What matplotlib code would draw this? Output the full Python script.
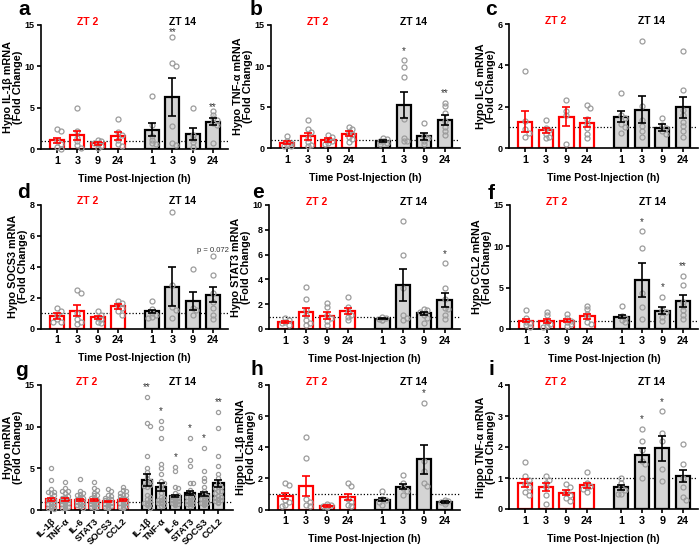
import numpy as np
import matplotlib
matplotlib.use("Agg")
import matplotlib.pyplot as plt
from matplotlib.transforms import blended_transform_factory, offset_copy

plt.rcParams['font.family'] = ['Liberation Sans', 'DejaVu Sans']
plt.rcParams['font.weight'] = 'bold'

times = ['1', '3', '9', '24']
genes = ['IL-1\u03b2', 'TNF-\u03b1', 'IL-6', 'STAT3', 'SOCS3', 'CCL2']

# groups: ZT2 1,3,9,24 h then ZT14 1,3,9,24 h
il1b_pts = [[2.5, 2.2, 1.0, 0.7, 0.3, 0.1], [5.0, 2.2, 1.4, 1.0, 0.5, 0.2],
            [1.15, 1.0, 0.8, 0.7, 0.45, 0.2], [3.65, 2.1, 1.8, 1.2, 0.7, 0.4],
            [6.5, 3.0, 1.6, 1.2, 0.8, 0.7], [13.6, 10.4, 10.1, 2.8, 0.8, 0.6],
            [5.0, 1.8, 1.3, 0.9, 0.3], [4.6, 4.2, 3.8, 3.5, 3.2, 2.9, 0.8]]
il1b_mean = [1.1, 1.7, 0.75, 1.65, 2.4, 6.35, 1.9, 3.35]
il1b_sem = [0.3, 0.5, 0.2, 0.45, 0.8, 2.3, 0.75, 0.4]
il1b_stars = ['', '', '', '', '', '**', '', '**']

tnf_pts = [[1.5, 0.8, 0.6, 0.4, 0.3, 0.2], [3.4, 2.3, 2.0, 1.2, 0.7, 0.4, 0.2],
           [1.6, 1.4, 1.0, 0.8, 0.6, 0.5], [2.6, 2.3, 2.0, 1.7, 1.4, 1.1, 0.7],
           [1.2, 1.1, 0.9, 0.8, 0.6, 0.5], [10.7, 9.9, 8.6, 3.5, 1.2, 0.9, 0.8],
           [3.0, 1.5, 1.2, 0.9, 0.5], [5.5, 5.1, 4.3, 3.3, 2.6, 2.1, 1.6]]
tnf_mean = [0.65, 1.43, 1.02, 1.75, 0.86, 5.2, 1.43, 3.4]
tnf_sem = [0.15, 0.4, 0.25, 0.3, 0.1, 1.6, 0.4, 0.6]
tnf_stars = ['', '', '', '', '', '*', '', '**']

il6_pts = [[3.75, 1.3, 0.9, 0.75, 0.55], [1.35, 0.95, 0.85, 0.7, 0.55, 0.5],
           [2.3, 1.8, 1.6, 0.2], [2.1, 1.95, 1.4, 1.15, 0.95, 0.7, 0.5],
           [2.65, 1.6, 1.45, 1.15, 1.0, 0.75], [5.2, 2.05, 1.35, 1.05, 0.8, 0.55],
           [1.45, 1.1, 0.95, 0.8, 0.7], [4.7, 2.8, 1.85, 1.6, 1.25, 1.05, 0.8, 0.55]]
il6_mean = [1.27, 0.85, 1.52, 1.23, 1.52, 1.86, 0.99, 1.96]
il6_sem = [0.5, 0.1, 0.47, 0.22, 0.26, 0.65, 0.15, 0.52]
il6_stars = [''] * 8

socs3_pts = [[1.35, 1.15, 0.85, 0.6, 0.4, 0.4], [2.5, 2.3, 1.0, 0.6, 0.4, 0.3],
             [1.1, 0.9, 0.7, 0.6, 0.45, 0.35], [1.8, 1.65, 1.5, 1.3, 1.1, 0.9],
             [1.8, 1.25, 1.0, 0.85, 0.75, 0.7], [7.5, 2.8, 1.4, 1.2, 0.7],
             [3.85, 1.3, 1.2, 0.85], [4.65, 3.45, 2.3, 1.7, 1.3, 0.9, 0.6]]
socs3_mean = [0.8, 1.16, 0.71, 1.42, 1.12, 2.69, 1.76, 2.19]
socs3_sem = [0.18, 0.35, 0.1, 0.15, 0.1, 1.25, 0.58, 0.5]
socs3_stars = [''] * 8

stat3_pts = [[0.85, 0.7, 0.55, 0.45, 0.35], [3.35, 2.4, 1.5, 1.1, 0.7, 0.5, 0.3],
             [2.1, 1.8, 1.1, 0.85, 0.65, 0.35], [2.6, 1.75, 1.4, 1.15, 1.0, 0.7],
             [1.0, 0.9, 0.8, 0.75, 0.7], [8.7, 5.95, 3.3, 1.1, 0.9, 0.75],
             [1.65, 1.55, 1.4, 1.1, 0.85, 0.5], [5.3, 3.3, 2.4, 1.7, 1.6, 1.1, 0.8]]
stat3_mean = [0.59, 1.4, 1.08, 1.45, 0.83, 3.52, 1.26, 2.31]
stat3_sem = [0.08, 0.33, 0.3, 0.25, 0.06, 1.3, 0.15, 0.57]
stat3_stars = ['', '', '', '', '', '', '', '*']

ccl2_pts = [[2.3, 1.3, 0.9, 0.7, 0.5, 0.3], [2.1, 1.7, 0.9, 0.6, 0.4, 0.3],
            [1.8, 1.35, 1.0, 0.8, 0.6, 0.4], [2.8, 2.4, 1.8, 1.4, 0.9, 0.6],
            [2.75, 1.6, 1.3, 1.1, 0.9], [11.8, 9.8, 4.3, 2.7, 1.2],
            [3.9, 2.3, 2.0, 1.5, 0.95], [6.45, 5.3, 3.3, 2.8, 2.3, 1.7, 1.2]]
ccl2_mean = [1.0, 0.97, 1.0, 1.57, 1.49, 5.93, 2.22, 3.39]
ccl2_sem = [0.2, 0.2, 0.17, 0.3, 0.15, 2.0, 0.4, 0.75]
ccl2_stars = ['', '', '', '', '', '*', '*', '**']

hippo_il1b_pts = [[1.7, 1.6, 0.6, 0.45, 0.3, 0.25], [4.65, 3.3, 0.7, 0.5, 0.3, 0.2],
                  [0.35, 0.3, 0.25, 0.2, 0.15], [1.7, 1.5, 0.7, 0.5, 0.3, 0.2],
                  [1.2, 0.7, 0.6, 0.5, 0.3], [2.2, 1.7, 1.4, 1.2, 0.9],
                  [6.85, 3.1, 2.5, 1.7, 1.5], [0.6, 0.55, 0.5, 0.45, 0.35]]
hippo_il1b_mean = [0.86, 1.5, 0.24, 0.82, 0.64, 1.46, 3.22, 0.49]
hippo_il1b_sem = [0.17, 0.65, 0.05, 0.2, 0.1, 0.15, 0.95, 0.05]
hippo_il1b_stars = ['', '', '', '', '', '', '*', '']

hippo_tnf_pts = [[1.53, 1.05, 0.95, 0.8, 0.7, 0.55, 0.45], [1.05, 0.95, 0.85, 0.7, 0.45, 0.15],
                 [0.8, 0.7, 0.55, 0.45, 0.35, 0.25], [1.18, 0.85, 0.75, 0.7, 0.65, 0.55],
                 [1.0, 0.85, 0.7, 0.6, 0.5, 0.5], [2.58, 2.2, 1.9, 1.55, 1.45, 1.0],
                 [3.15, 2.45, 2.2, 1.3, 0.9], [2.1, 1.45, 1.0, 0.7, 0.4, 0.3]]
hippo_tnf_mean = [0.85, 0.72, 0.53, 0.77, 0.7, 1.74, 1.96, 1.06]
hippo_tnf_sem = [0.13, 0.13, 0.08, 0.08, 0.08, 0.23, 0.4, 0.2]
hippo_tnf_stars = ['', '', '', '', '', '*', '*', '']

# panel g: all time points pooled per gene (ZT2 genes, then ZT14 genes)
pooled_mean = [1.3, 1.25, 1.25, 1.25, 1.05, 1.2, 3.6, 2.8, 1.68, 2.08, 1.92, 3.2]
pooled_sem = [0.2, 0.15, 0.12, 0.13, 0.07, 0.1, 0.7, 0.5, 0.15, 0.25, 0.25, 0.45]
pooled_stars = ['', '', '', '', '', '', '**', '*', '*', '*', '*', '**']

RED = '#ff0000'
FILL = '#d4d4d4'
DOT = '#9c9c9c'
W, H = 700, 545


def rect(l, t, r, b):
    return [l / W, 1 - b / H, (r - l) / W, (b - t) / H]


def swarm(ax, x0, vals, d=3.2, step=3.6):
    # spread overlapping dots sideways a little (pixel space)
    tr = ax.transData
    placed = []
    out = []
    for v in sorted(vals, reverse=True):
        px0, py = tr.transform((x0, v))
        px = px0
        for k in [0, 1, -1]:
            cand = px0 + k * step
            if all((cand - qx) ** 2 + (py - qy) ** 2 >= d ** 2 for qx, qy in placed):
                px = cand
                break
        placed.append((px, py))
        out.append((tr.inverted().transform((px, py))[0], v))
    return out


def draw(ax, xs, pts, mean, sem, stars, ymax, ystep, ylabel, ms=3.6, width=0.7, star_px=12):
    n = len(xs) // 2
    ax.set_ylim(0, ymax)
    ax.axhline(1, color='k', ls=(0, (1, 1.6)), lw=0.9, zorder=1)
    edges = [RED] * n + ['k'] * n
    fills = ['white'] * n + [FILL] * n
    ax.bar(xs, mean, width=width, color=fills, edgecolor=edges, linewidth=1.6, zorder=2)
    for x, p in zip(xs, pts):
        sw = swarm(ax, x, p, d=ms * 0.9, step=ms)
        ax.plot([s[0] for s in sw], [s[1] for s in sw], 'o', mfc='none', mec=DOT,
                ms=ms, mew=0.9, zorder=3, clip_on=False)
    for i in range(len(xs)):
        ax.errorbar(xs[i], mean[i], yerr=sem[i], fmt='none', ecolor=edges[i],
                    elinewidth=1.2, capsize=2.8, capthick=1.2, zorder=4)
    star_tr = offset_copy(ax.transData, fig=ax.figure, y=star_px - 5.4, units='dots')
    for x, p, s in zip(xs, pts, stars):
        if s:
            ax.text(x, max(p), s, ha='center', va='baseline', transform=star_tr,
                    fontsize=7, color='#333333', fontweight='normal')
    for sp in ['top', 'right']:
        ax.spines[sp].set_visible(False)
    for sp in ['left', 'bottom']:
        ax.spines[sp].set_linewidth(1.2)
    ax.set_yticks(np.arange(0, ymax + 0.01, ystep))
    ax.yaxis.set_major_formatter(matplotlib.ticker.FormatStrFormatter('%g'))
    ax.tick_params(axis='y', direction='out', length=3, width=1.2, labelsize=6.5, pad=1.5)
    ax.tick_params(axis='x', direction='out', length=3, width=1.2, labelsize=7.8, pad=2)
    ax.set_ylabel(ylabel, fontsize=7.8, fontweight='bold', labelpad=1.5, linespacing=1.0)
    tr = blended_transform_factory(ax.transData, ax.transAxes)
    ax.text(np.mean(xs[:n]), 1.0, 'ZT 2', color=RED, ha='center', va='baseline',
            fontsize=7.5, fontweight='bold', transform=tr)
    ax.text(np.mean(xs[n:]), 1.0, 'ZT 14', color='k', ha='center', va='baseline',
            fontsize=7.5, fontweight='bold', transform=tr)


fig = plt.figure(figsize=(7, 5.45), dpi=100)

time_x = np.r_[np.arange(4), np.arange(4) + 4.67]
gene_x = np.r_[np.arange(6), np.arange(6) + 6.68]

panels = [
    ('a', (41, 25, 228, 149.5), il1b_pts, il1b_mean, il1b_sem, il1b_stars, 15, 5, 'Hypo IL-1\u03b2 mRNA'),
    ('b', (271, 25, 460, 148), tnf_pts, tnf_mean, tnf_sem, tnf_stars, 15, 5, 'Hypo TNF-\u03b1 mRNA'),
    ('c', (509, 24, 698, 148), il6_pts, il6_mean, il6_sem, il6_stars, 6, 2, 'Hypo IL-6 mRNA'),
    ('d', (41, 204.5, 228, 328.5), socs3_pts, socs3_mean, socs3_sem, socs3_stars, 8, 2, 'Hypo SOCS3 mRNA'),
    ('e', (269, 205, 460, 329), stat3_pts, stat3_mean, stat3_sem, stat3_stars, 10, 2, 'Hypo STAT3 mRNA'),
    ('f', (510, 205, 698, 329), ccl2_pts, ccl2_mean, ccl2_sem, ccl2_stars, 15, 5, 'Hypo CCL2 mRNA'),
    ('h', (269, 385, 460, 509.5), hippo_il1b_pts, hippo_il1b_mean, hippo_il1b_sem, hippo_il1b_stars, 8, 2, 'Hippo IL-1\u03b2 mRNA'),
    ('i', (509, 385, 698, 509), hippo_tnf_pts, hippo_tnf_mean, hippo_tnf_sem, hippo_tnf_stars, 4, 1, 'Hippo TNF-\u03b1 mRNA'),
]

for letter, box, pts, mean, sem, stars, ymax, ystep, lab in panels:
    ax = fig.add_axes(rect(*box))
    ax.set_xlim(-0.79, 8.41)
    ax.set_ylim(0, ymax)
    draw(ax, time_x, pts, mean, sem, stars, ymax, ystep, lab + '\n(Fold Change)',
         star_px=6.5 if letter == 'a' else 12)
    ax.set_xticks(time_x)
    ax.set_xticklabels(times * 2)
    ax.set_xlabel('Time Post-Injection (h)', fontsize=7.6, fontweight='bold', labelpad=5.5)
    if letter == 'd':
        ax.text(time_x[7], 5.0, 'p = 0.072', ha='center', va='center', fontsize=5.5,
                fontweight='normal', color='#333333')

# panel g, pooled across time points
gene_sets = [il1b_pts, tnf_pts, il6_pts, stat3_pts, socs3_pts, ccl2_pts]
pooled_pts = [sum(g[:4], []) for g in gene_sets] + [sum(g[4:], []) for g in gene_sets]
axg = fig.add_axes(rect(41, 385, 233, 510))
axg.set_xlim(-0.70, 12.7)
axg.set_ylim(0, 15)
draw(axg, gene_x, pooled_pts, pooled_mean, pooled_sem, pooled_stars, 15, 5,
     'Hypo mRNA\n(Fold Change)', ms=3.0, width=0.72, star_px=12)
axg.set_xticks(gene_x)
axg.set_xticklabels(genes * 2, rotation=45, ha='right', rotation_mode='anchor', fontsize=6.8)

letters = [('a', 18, 15), ('b', 250, 15), ('c', 485, 15), ('d', 17, 198), ('e', 252, 198),
           ('f', 488, 199), ('g', 15, 375.5), ('h', 250, 375), ('i', 488, 375)]
for t, x, y in letters:
    fig.text(x / W, 1 - y / H, t, fontsize=15, fontweight='bold', ha='left', va='baseline')

fig.savefig('out.png', dpi=100)
